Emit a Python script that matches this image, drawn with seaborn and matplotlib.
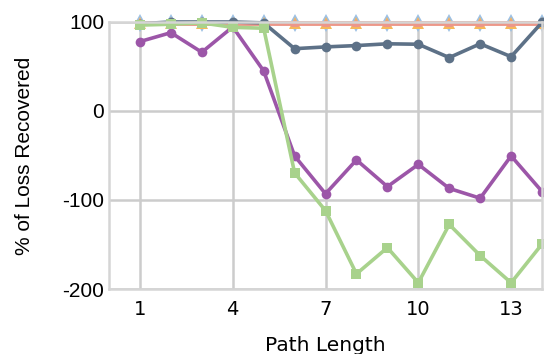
import matplotlib
matplotlib.use('Agg')
import matplotlib.pyplot as plt
import numpy as np
import pandas as pd
import seaborn as sns

# Data
path_length = list(range(1, 15))
light_blue = [99, 99, 99, 99, 99, 99, 99, 99, 99, 99, 99, 99, 99, 99]
orange = [99, 99, 99, 99, 99, 99, 99, 99, 99, 99, 99, 99, 99, 99]
pink = [99, 99, 99, 99, 99, 99, 99, 99, 99, 99, 99, 99, 99, 99]
slate = [98, 100, 100, 100, 99, 70, 72, 73.5, 75.5, 75, 60, 75.5, 61, 99.6]
purple = [78, 88, 66, 94.5, 45, -50.5, -93, -55, -85, -60, -87, -98, -50.5, -90.5]
green = [96.5, 97.5, 99, 94, 93, -69.5, -112, -183, -153.5, -193, -127.5, -162.5, -193, -149.5]

sns.set_style("whitegrid", {"grid.color": "#cccccc", "axes.edgecolor": "#d5d5d5",
                            "text.color": "black", "xtick.color": "black",
                            "ytick.color": "black", "axes.labelcolor": "black"})
plt.rcParams['font.family'] = ['Liberation Sans', 'DejaVu Sans']
plt.rcParams['axes.unicode_minus'] = False

fig = plt.figure(figsize=(5.44, 3.54), dpi=100)
ax = fig.add_axes([0.2004, 0.1836, 0.796, 0.7543])

# series at ~100 first
sns.lineplot(x=path_length, y=light_blue, ax=ax, color='#9cc0e4', marker='d',
             markersize=9, linewidth=1, markeredgewidth=0, clip_on=False)
sns.lineplot(x=path_length, y=orange, ax=ax, color='#f6b85a', marker='^',
             markersize=8, linewidth=2.5, markeredgewidth=0, clip_on=False)
sns.lineplot(x=path_length, y=pink, ax=ax, color='#ec978a', marker='^',
             markersize=5.5, linewidth=3.5, markeredgewidth=0, clip_on=False)
sns.lineplot(x=path_length, y=slate, ax=ax, color='#5d7187', marker='o',
             markersize=7, linewidth=2.6, markeredgewidth=0, clip_on=False)
sns.lineplot(x=path_length, y=purple, ax=ax, color='#9c56a8', marker='o',
             markersize=7, linewidth=2.6, markeredgewidth=0, clip_on=False)
sns.lineplot(x=path_length, y=green, ax=ax, color='#a8d28c', marker='s',
             markersize=7, linewidth=2.6, markeredgewidth=0, clip_on=False)

ax.set_xlim(0, 14)
ax.set_ylim(-200, 100)
ax.set_xticks([1, 4, 7, 10, 13])
ax.set_yticks([-200, -100, 0, 100])
ax.grid(True, linewidth=1.8)
for s in ax.spines.values():
    s.set_linewidth(1.8)
ax.tick_params(axis='both', length=0, labelsize=15)
ax.tick_params(axis='x', pad=8)
for lbl in ax.get_xticklabels():
    lbl.set_family('DejaVu Sans')
    lbl.set_fontsize(14)
ax.set_xlabel('Path Length', fontsize=14.5, family='DejaVu Sans', labelpad=12)
ax.set_ylabel('% of Loss Recovered', fontsize=15, labelpad=20)

plt.savefig('out.png', dpi=100)
plt.close()
